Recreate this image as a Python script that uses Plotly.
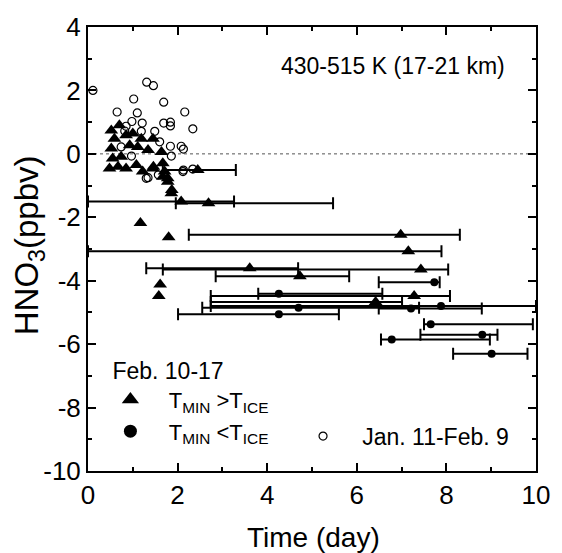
import plotly.graph_objects as go

# ---------------- data ----------------
# Jan. 11 - Feb. 9 (open circles)
jan_x = [0.11, 1.31, 1.46, 1.02, 1.69, 0.65, 1.10, 2.16, 0.98, 1.21, 1.69, 1.84, 1.84,
         2.34, 0.85, 1.49, 1.19, 0.82, 1.84, 2.08, 2.13, 1.60, 1.86, 0.97, 0.74, 1.34,
         1.57, 2.13, 2.34, 1.30, 2.12]
jan_y = [2.00, 2.26, 2.15, 1.73, 1.63, 1.32, 1.29, 1.32, 1.02, 0.97, 0.97, 1.00, 0.88,
         0.79, 0.87, 0.71, 0.71, 0.72, 0.24, 0.24, 0.15, 0.38, -0.07, -0.07, 0.22, -0.75,
         -0.66, -0.51, -0.48, -0.77, -0.56]

# Feb. 10-17, T_MIN > T_ICE, points without time range bars
tri_x = [0.70, 0.52, 0.85, 1.00, 1.19, 1.45, 0.59, 0.52, 0.93, 1.11, 1.34, 1.64, 0.55,
         0.74, 0.48, 0.67, 0.85, 1.08, 1.22, 1.45, 1.67, 1.71, 1.78, 1.87, 1.67, 1.78,
         1.46, 1.86, 1.17, 1.80, 1.61, 1.58]
tri_y = [0.90, 0.74, 0.59, 0.64, 0.48, 0.48, 0.48, 0.17, 0.27, 0.22, 0.12, 0.06, -0.15,
         -0.09, -0.46, -0.41, -0.46, -0.35, -0.56, -0.46, -0.30, -0.56, -0.77, -1.14, -0.72,
         -0.88, -0.41, -1.24, -2.18, -2.63, -4.12, -4.48]

# Feb. 10-17, T_MIN > T_ICE, points with time range bars
trib_x = [2.45, 2.08, 2.69, 6.98, 7.15, 3.61, 7.43, 4.73, 7.28, 6.42]
trib_y = [-0.51, -1.50, -1.56, -2.55, -3.07, -3.61, -3.65, -3.86, -4.48, -4.67]
trib_lo = [1.67, 0.00, 1.96, 2.25, 0.00, 1.30, 1.67, 2.85, 2.74, 2.74]
trib_hi = [3.30, 3.26, 5.47, 8.30, 7.89, 4.69, 8.04, 5.83, 8.08, 7.01]

# Feb. 10-17, T_MIN < T_ICE
dot_x = [7.73, 4.26, 4.70, 7.21, 7.88, 4.26, 7.65, 8.80, 6.78, 9.01]
dot_y = [-4.05, -4.41, -4.85, -4.88, -4.80, -5.06, -5.37, -5.70, -5.85, -6.30]
dot_lo = [6.49, 3.80, 2.55, 6.49, 2.74, 2.01, 7.50, 7.42, 6.54, 8.15]
dot_hi = [7.85, 6.57, 7.39, 8.79, 10.00, 5.60, 9.93, 9.14, 8.97, 9.81]

x_ticks = [0, 2, 4, 6, 8, 10]
x_ticktext = ["0", "2", "4", "6", "8", "10"]
y_ticks = [4, 2, 0, -2, -4, -6, -8, -10]
y_ticktext = ["4", "2", "0", "-2", "-4", "-6", "-8", "-10"]

FONT = "Liberation Sans, Arial, Helvetica, sans-serif"


def err(x, lo, hi):
    return dict(type="data", symmetric=False,
                array=[h - v for v, h in zip(x, hi)],
                arrayminus=[v - l for v, l in zip(x, lo)],
                color="black", thickness=2, width=6)


fig = go.Figure()

fig.add_trace(go.Scatter(x=jan_x, y=jan_y, mode="markers", showlegend=False,
                         marker=dict(symbol="circle-open", size=8, color="black",
                                     line=dict(width=1.2, color="black"))))
fig.add_trace(go.Scatter(x=tri_x, y=tri_y, mode="markers", showlegend=False,
                         marker=dict(symbol="triangle-up", size=12, color="black")))
fig.add_trace(go.Scatter(x=trib_x, y=trib_y, mode="markers", showlegend=False,
                         error_x=err(trib_x, trib_lo, trib_hi),
                         marker=dict(symbol="triangle-up", size=12, color="black")))
fig.add_trace(go.Scatter(x=dot_x, y=dot_y, mode="markers", showlegend=False,
                         error_x=err(dot_x, dot_lo, dot_hi),
                         marker=dict(symbol="circle", size=8, color="black")))

# legend entries
NB = "\u00a0\u00a0\u00a0"
fig.add_trace(go.Scatter(x=[None], y=[None], mode="markers", legend="legend",
                         name=NB + "T<sub>MIN</sub> >T<sub>ICE</sub>",
                         marker=dict(symbol="triangle-up", size=15, color="black")))
fig.add_trace(go.Scatter(x=[None], y=[None], mode="markers", legend="legend",
                         name=NB + "T<sub>MIN</sub> &lt;T<sub>ICE</sub>",
                         marker=dict(symbol="circle", size=13, color="black")))
fig.add_trace(go.Scatter(x=[None], y=[None], mode="markers", legend="legend2",
                         name=NB + "Jan. 11-Feb. 9",
                         marker=dict(symbol="circle-open", size=8, color="black",
                                     line=dict(width=1.2, color="black"))))

fig.add_shape(type="line", xref="x", yref="y", x0=0, x1=10, y0=0, y1=0,
              line=dict(color="#555", width=1, dash="dot"), layer="below")

axis_common = dict(showline=True, linecolor="black", linewidth=2, mirror="ticks",
                   ticks="inside", ticklen=8, tickwidth=2, tickcolor="black",
                   showgrid=False, zeroline=False,
                   tickfont=dict(family=FONT, size=26, color="black"))

fig.update_xaxes(range=[0, 10], tickvals=x_ticks, ticktext=x_ticktext,
                 minor=dict(ticks="inside", ticklen=4, tickwidth=2, dtick=1,
                            tickcolor="black", showgrid=False),
                 **axis_common)
fig.update_yaxes(range=[-10, 4], tickvals=y_ticks, ticktext=y_ticktext,
                 minor=dict(ticks="inside", ticklen=4, tickwidth=2, dtick=1,
                            tickcolor="black", showgrid=False),
                 **axis_common)

fig.add_annotation(text="430-515 K (17-21 km)", xref="paper", yref="paper",
                   x=0.68, y=0.912, xanchor="center", yanchor="middle", showarrow=False,
                   font=dict(family=FONT, size=23, color="black"))
fig.add_annotation(text="Time (day)", xref="paper", yref="paper",
                   x=0.503, y=-0.15, xanchor="center", yanchor="middle", showarrow=False,
                   font=dict(family=FONT, size=28, color="black"))
fig.add_annotation(text="HNO<sub>3</sub>(ppbv)", xref="paper", yref="paper",
                   x=-0.13, y=0.535, xanchor="center", yanchor="middle", showarrow=False,
                   yshift=-12,
                   textangle=-90, font=dict(family=FONT, size=33, color="black"))

fig.update_layout(
    width=562, height=553,
    margin=dict(l=88, r=26, t=24, b=82),
    paper_bgcolor="white", plot_bgcolor="white",
    font=dict(family=FONT, color="black"),
    legend=dict(title=dict(text="Feb. 10-17", font=dict(family=FONT, size=23)),
                font=dict(family=FONT, size=22), x=0.05, y=0.275,
                xanchor="left", yanchor="top", bgcolor="rgba(0,0,0,0)",
                tracegroupgap=0, itemclick=False),
    legend2=dict(font=dict(family=FONT, size=23), x=0.48, y=0.127,
                 xanchor="left", yanchor="top", bgcolor="rgba(0,0,0,0)",
                 itemclick=False),
)

fig.write_html("out.html")
